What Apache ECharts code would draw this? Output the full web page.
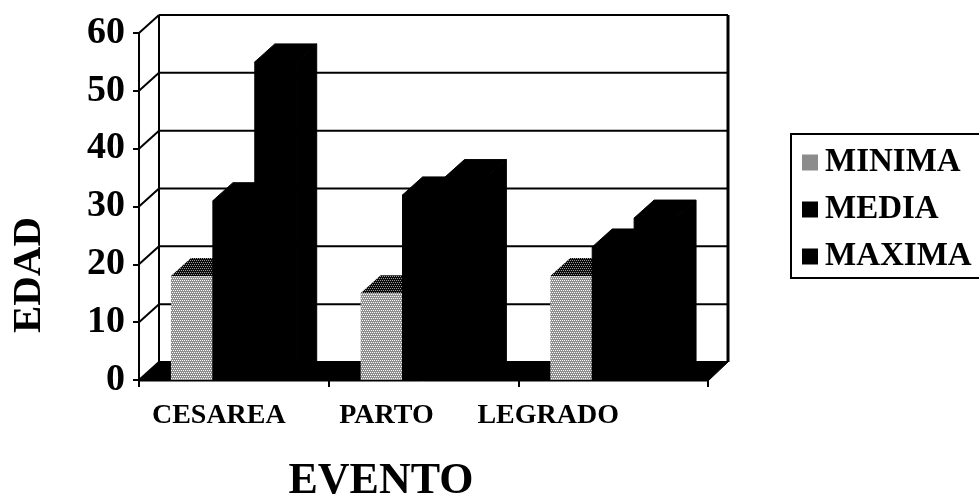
<!DOCTYPE html>
<html><head><meta charset="utf-8">
<script src="https://cdn.jsdelivr.net/npm/echarts@6/dist/echarts.min.js"></script>
<style>html,body{margin:0;padding:0;background:#fff}#c{width:979px;height:500px}</style>
</head><body><div id="c"></div>
<script>
// ---- data ----
const categories = ['CESAREA', 'PARTO', 'LEGRADO'];
const seriesNames = ['MINIMA', 'MEDIA', 'MAXIMA'];
const minima = [18, 15, 18];
const media = [31, 32, 23];
const maxima = [55, 35, 28];
const yTicks = [0, 10, 20, 30, 40, 50, 60];

// ---- style ----
const FONT = '"Liberation Serif", "Times New Roman", serif';
const DX = 20, DY = -18;          // 3D depth offset
const BAR_FRAC = 0.221;           // bar width as fraction of category width
const labelShift = [30, 74, 130]; // right padding to nudge x labels left

// dotted grey pattern for MINIMA
function makePattern(bg, dot) {
  const cv = document.createElement('canvas');
  cv.width = 4; cv.height = 4;
  const g = cv.getContext('2d');
  g.fillStyle = bg; g.fillRect(0, 0, 4, 4);
  g.fillStyle = dot;
  g.fillRect(0, 0, 1, 1); g.fillRect(2, 0, 1, 1);
  g.fillRect(1, 2, 1, 1); g.fillRect(3, 2, 1, 1);
  return cv;
}
const greyFront = { image: makePattern('#8e8e8e', '#ffffff'), repeat: 'repeat' };
const greyTop = { image: makePattern('#0a0a0a', '#9a9a9a'), repeat: 'repeat' };

const seriesData = [minima, media, maxima];
const frontFill = [greyFront, '#000', '#000'];
const topFill = [greyTop, '#000', '#000'];
const legendColor = ['#8c8c8c', '#000', '#000'];

const chart = echarts.init(document.getElementById('c'), null, { renderer: 'canvas' });

function bgRender(params, api) {
  const cs = params.coordSys;
  const x0 = cs.x, x1 = cs.x + cs.width;
  const y0 = api.coord([0, 0])[1];
  const yTop = api.coord([0, yTicks[yTicks.length - 1]])[1];
  const children = [];
  const ls = { stroke: '#000', lineWidth: 2 };
  yTicks.forEach(v => {
    const y = api.coord([0, v])[1];
    children.push({ type: 'line', shape: { x1: x0 + DX, y1: y + DY, x2: x1 + DX, y2: y + DY }, style: ls });
    children.push({ type: 'line', shape: { x1: x0, y1: y, x2: x0 + DX, y2: y + DY }, style: ls });
  });
  children.push({ type: 'line', shape: { x1: x0 + DX, y1: yTop + DY, x2: x0 + DX, y2: y0 + DY }, style: ls });
  children.push({ type: 'line', shape: { x1: x1 + DX, y1: yTop + DY, x2: x1 + DX, y2: y0 + DY }, style: { stroke: '#000', lineWidth: 3 } });
  children.push({ type: 'polygon', shape: { points: [[x0, y0 + 1], [x1, y0 + 1], [x1 + DX, y0 + DY], [x0 + DX, y0 + DY]] }, style: { fill: '#000', stroke: '#000', lineWidth: 1 } });
  return { type: 'group', children };
}

function barRender(sIdx) {
  return function (params, api) {
    const cat = api.value(0), v = api.value(1);
    const top = api.coord([cat, v]);
    const base = api.coord([cat, 0]);
    const cw = api.size([1, 0])[0];
    const bw = cw * BAR_FRAC;
    const l = top[0] + (sIdx - 1.5) * bw;
    const r = l + bw;
    const t = top[1], b = base[1];
    return {
      type: 'group',
      children: [
        { type: 'polygon', shape: { points: [[r, t], [r + DX, t + DY], [r + DX, b + DY], [r, b]] }, style: { fill: '#000', stroke: '#000', lineWidth: 1 } },
        { type: 'polygon', shape: { points: [[l, t], [r, t], [r + DX, t + DY], [l + DX, t + DY]] }, style: { fill: topFill[sIdx], stroke: sIdx === 0 ? null : '#000', lineWidth: 1 } },
        { type: 'rect', shape: { x: l, y: t, width: bw, height: b - t }, style: { fill: frontFill[sIdx], stroke: sIdx === 0 ? null : '#000', lineWidth: 1 } }
      ]
    };
  };
}

const richLabels = {};
categories.forEach((c, i) => {
  richLabels['l' + i] = { fontFamily: FONT, fontWeight: 'bold', fontSize: 28, color: '#000', padding: [0, labelShift[i], 0, 0] };
});

const option = {
  animation: false,
  backgroundColor: '#fff',
  grid: { left: 139, right: 271, top: 33, bottom: 120, containLabel: false },
  xAxis: {
    type: 'category',
    data: categories,
    boundaryGap: true,
    axisLine: { show: true, lineStyle: { color: '#000', width: 2 } },
    axisTick: { show: true, length: 7, lineStyle: { color: '#000', width: 2 } },
    axisLabel: {
      interval: 0, margin: 22,
      formatter: (val, idx) => '{l' + idx + '|' + val + '}',
      rich: richLabels
    },
    splitLine: { show: false }
  },
  yAxis: {
    type: 'value', min: 0, max: 60, interval: 10,
    axisLine: { show: true, lineStyle: { color: '#000', width: 2 } },
    axisTick: { show: true, length: 6, lineStyle: { color: '#000', width: 2 } },
    axisLabel: { margin: 14, fontFamily: FONT, fontWeight: 'bold', fontSize: 38, color: '#000' },
    splitLine: { show: false }
  },
  legend: {
    orient: 'vertical', left: 791, top: 134,
    padding: [12, 60, 5, 11],
    itemGap: 14, itemWidth: 16, itemHeight: 16,
    borderColor: '#000', borderWidth: 2, borderRadius: 0,
    selectedMode: false,
    textStyle: { fontFamily: FONT, fontWeight: 'bold', fontSize: 33, lineHeight: 33, color: '#000', padding: [0, 0, 0, 2] },
    data: seriesNames.map((n, i) => ({ name: n, icon: 'rect', itemStyle: { color: legendColor[i] } }))
  },
  graphic: [
    { type: 'text', x: 29, y: 275, rotation: Math.PI / 2,
      style: { text: 'EDAD', font: 'bold 41px ' + FONT, fill: '#000', textAlign: 'center', textVerticalAlign: 'middle' } },
    { type: 'text', x: 381, y: 482,
      style: { text: 'EVENTO', font: 'bold 44px ' + FONT, fill: '#000', textAlign: 'center', textVerticalAlign: 'middle' } }
  ],
  series: [
    { type: 'custom', name: '_bg', silent: true, z: 1, renderItem: bgRender, data: [[0, 0]], legendHoverLink: false }
  ].concat(seriesNames.map((n, i) => ({
    type: 'custom', name: n, z: 2 + i,
    itemStyle: { color: legendColor[i] },
    renderItem: barRender(i),
    data: categories.map((c, k) => [k, seriesData[i][k]])
  })))
};
chart.setOption(option);
</script>
</body></html>
